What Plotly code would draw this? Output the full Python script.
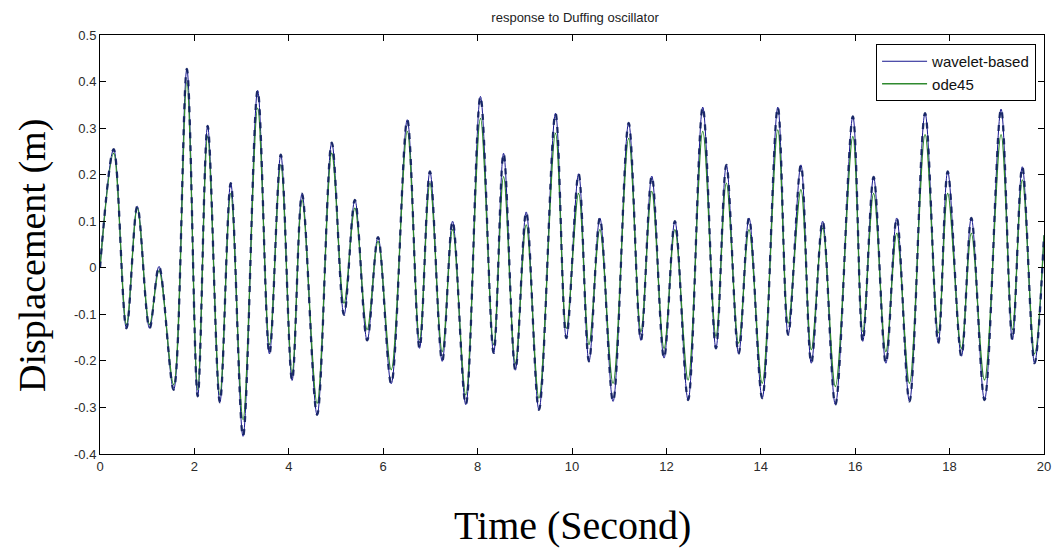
import plotly.graph_objects as go

# Extremum times (s)
t_ext = [0, 0.29, 0.56, 0.79, 1.05, 1.25, 1.56, 1.84, 2.07, 2.28,
         2.54, 2.77, 3.03, 3.34, 3.59, 3.83, 4.07, 4.28, 4.6, 4.91,
         5.17, 5.40, 5.66, 5.89, 6.17, 6.51, 6.77, 6.99, 7.25, 7.47,
         7.75, 8.06, 8.34, 8.55, 8.80, 9.03, 9.30, 9.65, 9.88, 10.14,
         10.36, 10.59, 10.87, 11.20, 11.46, 11.69, 11.95, 12.18, 12.46, 12.77,
         13.05, 13.27, 13.53, 13.75, 14.03, 14.36, 14.58, 14.85, 15.07, 15.31,
         15.58, 15.95, 16.16, 16.39, 16.65, 16.88, 17.15, 17.48, 17.76, 17.96,
         18.25, 18.46, 18.74, 19.09, 19.33, 19.54, 19.80, 20.0]

wavelet_based = [0, 0.255, -0.13, 0.132, -0.13, 0.003, -0.262, 0.427, -0.276, 0.305,
                 -0.289, 0.182, -0.362, 0.381, -0.185, 0.243, -0.242, 0.159, -0.316, 0.269,
                 -0.101, 0.146, -0.156, 0.066, -0.249, 0.318, -0.173, 0.207, -0.201, 0.10,
                 -0.294, 0.368, -0.183, 0.246, -0.22, 0.12, -0.305, 0.332, -0.151, 0.202,
                 -0.201, 0.107, -0.287, 0.311, -0.156, 0.197, -0.194, 0.10, -0.284, 0.345,
                 -0.173, 0.221, -0.185, 0.107, -0.28, 0.345, -0.144, 0.221, -0.205, 0.10,
                 -0.294, 0.325, -0.158, 0.195, -0.205, 0.107, -0.287, 0.332, -0.162, 0.207,
                 -0.19, 0.107, -0.284, 0.341, -0.155, 0.217, -0.205, 0.07]

ode45 = [0, 0.246, -0.122, 0.128, -0.122, -0.006, -0.251, 0.397, -0.262, 0.282,
         -0.273, 0.160, -0.326, 0.343, -0.165, 0.221, -0.226, 0.146, -0.291, 0.246,
         -0.076, 0.128, -0.133, 0.057, -0.219, 0.293, -0.155, 0.182, -0.180, 0.082,
         -0.273, 0.321, -0.165, 0.196, -0.205, 0.092, -0.28, 0.289, -0.13, 0.160,
         -0.165, 0.082, -0.248, 0.278, -0.137, 0.164, -0.173, 0.082, -0.241, 0.293,
         -0.147, 0.182, -0.162, 0.082, -0.248, 0.296, -0.119, 0.168, -0.176, 0.085,
         -0.255, 0.282, -0.137, 0.160, -0.18, 0.074, -0.248, 0.286, -0.14, 0.16,
         -0.173, 0.074, -0.241, 0.286, -0.133, 0.189, -0.185, 0.07]

x_ticks = [0, 2, 4, 6, 8, 10, 12, 14, 16, 18, 20]
y_ticks = [-0.4, -0.3, -0.2, -0.1, 0, 0.1, 0.2, 0.3, 0.4, 0.5]
y_tick_labels = ["-0.4", "-0.3", "-0.2", "-0.1", "0", "0.1", "0.2", "0.3", "0.4", "0.5"]

BLUE = "#16168f"
DARK_BLUE = "#112060"
GREEN = "#2f8a2f"

fig = go.Figure()
fig.add_trace(go.Scatter(x=t_ext, y=wavelet_based, mode="lines", name="wavelet-based",
                         line=dict(color=BLUE, width=1.0, shape="spline", smoothing=1.0),
                         legendgroup="w"))
fig.add_trace(go.Scatter(x=t_ext, y=ode45, mode="lines", name="ode45",
                         line=dict(color=GREEN, width=1.3, shape="spline", smoothing=1.0)))
fig.add_trace(go.Scatter(x=t_ext, y=wavelet_based, mode="lines", name="wavelet-based",
                         line=dict(color=DARK_BLUE, width=2.3, shape="spline", smoothing=1.0,
                                   dash="6px,7px"),
                         legendgroup="w", showlegend=False, opacity=0.9))

tick_font = dict(family="Liberation Sans, Arial", size=13, color="#2b2b2b")
fig.update_layout(
    width=1061, height=551,
    margin=dict(l=100, r=10, t=35, b=97),
    paper_bgcolor="white", plot_bgcolor="white",
    showlegend=True,
    title=dict(text="response to Duffing oscillator", x=0.542, xanchor="center",
               y=1 - 17 / 551, yanchor="middle",
               font=dict(family="Liberation Sans, Arial", size=13, color="#222222")),
    legend=dict(x=0.9916, xanchor="right", y=0.9785, yanchor="top",
                bgcolor="white", bordercolor="black", borderwidth=1,
                font=dict(family="Liberation Sans, Arial", size=15, color="#111111"),
                tracegroupgap=0, itemwidth=45),
    xaxis=dict(range=[0, 20], tickvals=x_ticks, ticks="inside", ticklen=6,
               tickcolor="black", showline=True, linecolor="black", linewidth=1,
               mirror="ticks", showgrid=False, zeroline=False, tickfont=tick_font),
    yaxis=dict(range=[-0.4, 0.5], tickvals=y_ticks, ticktext=y_tick_labels,
               ticks="inside", ticklen=6, tickcolor="black", showline=True,
               linecolor="black", linewidth=1, mirror="ticks", showgrid=False,
               zeroline=False, tickfont=tick_font),
    annotations=[
        dict(text="Time (Second)", xref="paper", yref="paper", x=0.5, y=-(525 - 454) / 419,
             xanchor="center", yanchor="middle", showarrow=False,
             font=dict(family="Liberation Serif, Times New Roman", size=40, color="black")),
        dict(text="Displacement (m)", xref="paper", yref="paper",
             x=-(100 - 32) / 951, y=0.5 - 11 / 419, xanchor="center", yanchor="middle",
             textangle=-90, showarrow=False,
             font=dict(family="Liberation Serif, Times New Roman", size=38, color="black")),
    ],
)

fig.write_html("out.html")
